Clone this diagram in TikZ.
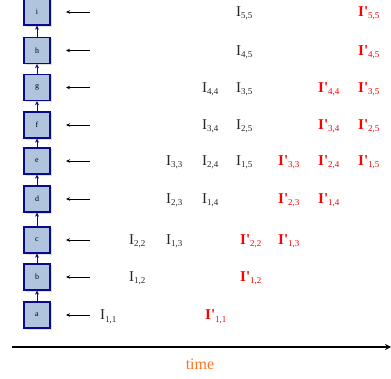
\documentclass[tikz,border=0pt]{standalone}
\usepackage{fontspec}
\setmainfont{Liberation Serif}[Ligatures=TeXOff]
\usetikzlibrary{arrows.meta}
\definecolor{boxfill}{RGB}{176,196,222}
\definecolor{boxline}{RGB}{10,10,140}
\definecolor{timeorange}{RGB}{255,115,30}
\newcommand{\idx}[1]{{\fontsize{15}{15}\selectfont I}\raisebox{-2pt}{\fontsize{9}{9}\selectfont #1}}
\newcommand{\idxp}[1]{{\fontsize{15}{15}\selectfont\bfseries I'}\raisebox{-2pt}{\fontsize{9}{9}\selectfont #1}}
\tikzset{
  stage/.style={draw=boxline, line width=1.3pt, fill=boxfill, minimum width=26pt, minimum height=26pt, inner sep=0pt, font=\fontsize{8}{8}\selectfont},
  link/.style={draw=boxline, line width=0.9pt, -{Stealth[length=4pt,width=4pt]}},
  feed/.style={draw=black, line width=0.8pt, -{Stealth[length=4pt,width=3.5pt]}},
  val/.style={anchor=base west, inner sep=0pt, text=black!85},
  valp/.style={anchor=base west, inner sep=0pt, text=red},
}
\begin{document}
\begin{tikzpicture}[x=1pt,y=-1pt]
\useasboundingbox (0,0) rectangle (391,379);
% stage boxes with soft shadows
\foreach \n/\yy in {i/12,h/50.5,g/87.5,f/125,e/161,d/199,c/240,b/277,a/315}{
  \fill[black!12] (25.5,\yy-12) rectangle (52,\yy+15);
  \node[stage] (\n) at (37,\yy) {\n};
  \coordinate (s\n) at (90,\yy);
  \coordinate (t\n) at (66,\yy);
  \draw[feed] (s\n) -- (t\n);
}
\foreach \lo/\hi in {a/b,b/c,c/d,d/e,e/f,f/g,g/h,h/i}{
  \draw[link] (\lo.north) -- (\hi.south);
}
% row a
\node[val]  (v11) at (100,320) {\idx{1,1}};
\node[valp] (w11) at (205,320) {\idxp{1,1}};
% row b
\node[val]  (v12) at (129,282) {\idx{1,2}};
\node[valp] (w12) at (240,282) {\idxp{1,2}};
% row c
\node[val]  (v22) at (129,245) {\idx{2,2}};
\node[val]  (v13) at (166,245) {\idx{1,3}};
\node[valp] (w22) at (240,245) {\idxp{2,2}};
\node[valp] (w13) at (278,245) {\idxp{1,3}};
% row d
\node[val]  (v23) at (166,204) {\idx{2,3}};
\node[val]  (v14) at (202,204) {\idx{1,4}};
\node[valp] (w23) at (278,204) {\idxp{2,3}};
\node[valp] (w14) at (318,204) {\idxp{1,4}};
% row e
\node[val]  (v33) at (166,166) {\idx{3,3}};
\node[val]  (v24) at (202,166) {\idx{2,4}};
\node[val]  (v15) at (236,166) {\idx{1,5}};
\node[valp] (w33) at (278,166) {\idxp{3,3}};
\node[valp] (w24) at (318,166) {\idxp{2,4}};
\node[valp] (w15) at (358,166) {\idxp{1,5}};
% row f
\node[val]  (v34) at (202,130) {\idx{3,4}};
\node[val]  (v25) at (236,130) {\idx{2,5}};
\node[valp] (w34) at (318,130) {\idxp{3,4}};
\node[valp] (w25) at (358,130) {\idxp{2,5}};
% row g
\node[val]  (v44) at (202,93) {\idx{4,4}};
\node[val]  (v35) at (236,93) {\idx{3,5}};
\node[valp] (w44) at (318,93) {\idxp{4,4}};
\node[valp] (w35) at (358,93) {\idxp{3,5}};
% row h
\node[val]  (v45) at (236,56) {\idx{4,5}};
\node[valp] (w45) at (358,56) {\idxp{4,5}};
% row i
\node[val]  (v55) at (236,17) {\idx{5,5}};
\node[valp] (w55) at (358,17) {\idxp{5,5}};
% time axis
\coordinate (t0) at (12,347);
\coordinate (t1) at (391,347);
\draw[line width=1.3pt, -{Stealth[length=6pt,width=6pt]}] (t0) -- (t1);
\node[text=timeorange, font=\fontsize{16}{16}\selectfont] (time) at (200,364) {time};
\end{tikzpicture}
\end{document}
